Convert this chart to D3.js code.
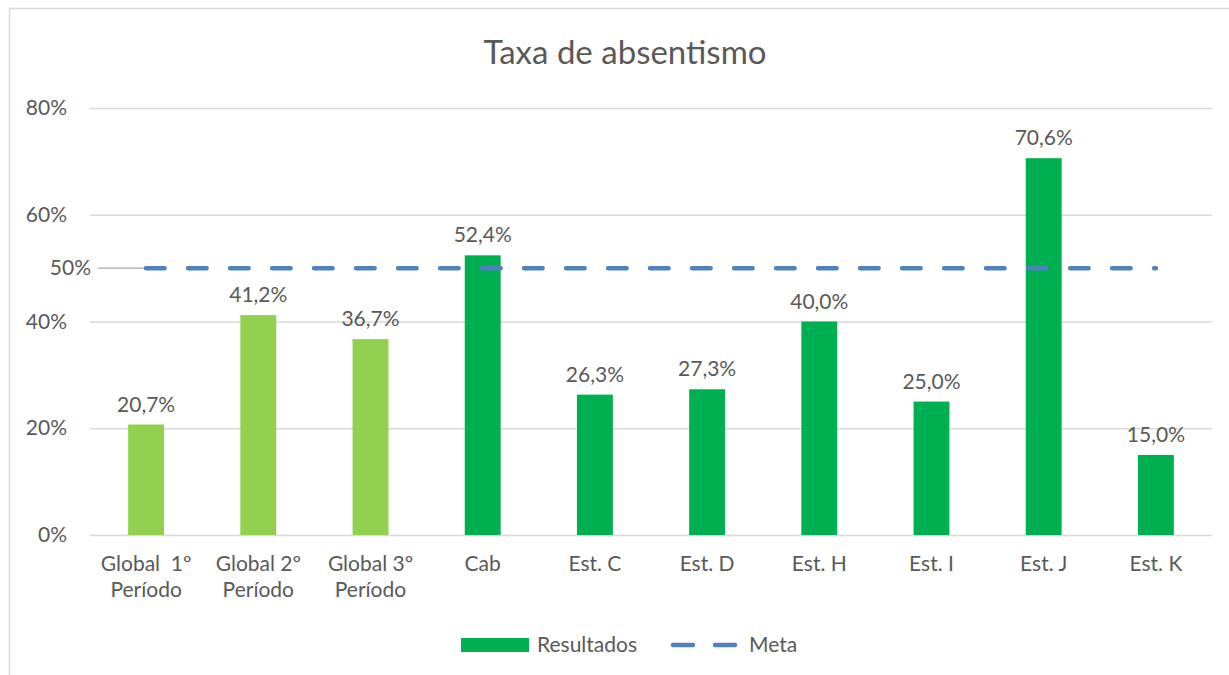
<!DOCTYPE html>
<html>
<head>
<meta charset="utf-8">
<script src="https://cdn.jsdelivr.net/npm/d3@7"></script>
<style>
  body { margin: 0; background: #fff; }
  svg { display: block; font-family: Lato, "Noto Sans", sans-serif; }
  text { fill: #595959; white-space: pre; }
</style>
</head>
<body>
<div id="chart"></div>
<script>
// chart data
var categories = ["Global  1º\nPeríodo", "Global 2º\nPeríodo", "Global 3º\nPeríodo",
  "Cab", "Est. C", "Est. D", "Est. H", "Est. I", "Est. J", "Est. K"];
var groups = ["global", "global", "global", "est", "est", "est", "est", "est", "est", "est"];
var resultados = [0.207, 0.412, 0.367, 0.524, 0.263, 0.273, 0.400, 0.250, 0.706, 0.150];
var meta = [0.5, 0.5, 0.5, 0.5, 0.5, 0.5, 0.5, 0.5, 0.5, 0.5];
var yTicks = [0, 0.2, 0.4, 0.6, 0.8];

var W = 1229, H = 675;
var plotLeft = 90, plotRight = 1212, plotTop = 108, plotBottom = 535;
var fontSize = '21px';

var pt = d3.formatLocale({decimal: ",", thousands: ".", grouping: [3], currency: ["", "€"]});
var fmtLabel = pt.format(".1%");
var fmtTick = pt.format(".0%");

var svg = d3.select('#chart').append('svg')
  .attr('width', W)
  .attr('height', H);

// outer chart frame (runs off the picture right and bottom)
svg.append('rect')
  .attr('x', 9.5).attr('y', 8.5)
  .attr('width', 1400).attr('height', 800)
  .style('fill', 'none')
  .style('stroke', '#d9d9d9')
  .style('stroke-width', 1.5);

var x = d3.scaleBand()
  .domain(categories)
  .range([plotLeft, plotRight])
  .paddingInner(0.68)
  .paddingOuter(0.34);

var y = d3.scaleLinear()
  .domain([0, 0.8])
  .range([plotBottom, plotTop]);

var color = d3.scaleOrdinal()
  .domain(["global", "est"])
  .range(["#92d050", "#00b050"]);

var cx = function (d) { return x(d) + x.bandwidth() / 2; };

// title
svg.append('text')
  .attr('x', 625)
  .attr('y', 64)
  .attr('text-anchor', 'middle')
  .style('font-size', '33px')
  .text('Taxa de absentismo');

// y axis + gridlines
var yAxis = svg.append('g')
  .attr('transform', 'translate(' + plotLeft + ',0)')
  .call(d3.axisLeft(y)
    .tickValues(yTicks)
    .tickFormat(fmtTick)
    .tickSizeInner(-(plotRight - plotLeft))
    .tickSizeOuter(0)
    .tickPadding(23));
yAxis.select('.domain').remove();
yAxis.selectAll('.tick line')
  .style('stroke', '#d9d9d9')
  .style('stroke-width', 1.3);
yAxis.selectAll('.tick text')
  .style('font-size', fontSize)
  .style('font-family', 'Lato, sans-serif')
  .style('fill', '#595959');

// bars
svg.selectAll('.bar')
  .data(resultados)
  .enter()
  .append('rect')
  .classed('bar', true)
  .attr('x', function (d, i) { return x(categories[i]); })
  .attr('y', function (d) { return y(d); })
  .attr('width', x.bandwidth())
  .attr('height', function (d) { return y(0) - y(d); })
  .style('fill', function (d, i) { return color(groups[i]); });

// data labels
svg.selectAll('.lbl')
  .data(resultados)
  .enter()
  .append('text')
  .classed('lbl', true)
  .attr('x', function (d, i) { return cx(categories[i]); })
  .attr('y', function (d) { return y(d) - 13; })
  .attr('text-anchor', 'middle')
  .style('font-size', fontSize)
  .text(function (d) { return fmtLabel(d); });

// meta line
var metaLine = d3.line()
  .x(function (d, i) { return cx(categories[i]); })
  .y(function (d) { return y(d); });

// meta label with leader line
svg.append('line')
  .attr('x1', 98).attr('x2', cx(categories[0]))
  .attr('y1', y(meta[0])).attr('y2', y(meta[0]))
  .style('stroke', '#a6a6a6')
  .style('stroke-width', 1.3);
svg.append('text')
  .attr('x', 91)
  .attr('y', y(meta[0]) + 7)
  .attr('text-anchor', 'end')
  .style('font-size', fontSize)
  .text(fmtTick(meta[0]));

svg.append('path')
  .datum(meta)
  .attr('d', metaLine)
  .style('fill', 'none')
  .style('stroke', '#4f81bd')
  .style('stroke-width', 4.5)
  .style('stroke-linecap', 'round')
  .style('stroke-dasharray', '18.5,23.5');

// category labels
var cat = svg.selectAll('.cat')
  .data(categories)
  .enter()
  .append('text')
  .classed('cat', true)
  .attr('text-anchor', 'middle')
  .style('font-size', fontSize)
  .attr('transform', function (d) { return 'translate(' + cx(d) + ',571)'; });
cat.selectAll('tspan')
  .data(function (d) { return d.split('\n'); })
  .enter()
  .append('tspan')
  .attr('x', 0)
  .attr('dy', function (d, i) { return i === 0 ? 0 : 26; })
  .text(function (d) { return d; });

// legend
var legend = svg.append('g');
legend.append('rect')
  .attr('x', 461).attr('y', 638)
  .attr('width', 68).attr('height', 14)
  .style('fill', color('est'));
legend.append('text')
  .attr('x', 537).attr('y', 652)
  .style('font-size', fontSize)
  .text('Resultados');
legend.append('line')
  .attr('x1', 673).attr('x2', 735)
  .attr('y1', 645).attr('y2', 645)
  .style('stroke', '#4f81bd')
  .style('stroke-width', 4.5)
  .style('stroke-linecap', 'round')
  .style('stroke-dasharray', '20,22');
legend.append('text')
  .attr('x', 749).attr('y', 652)
  .style('font-size', fontSize)
  .text('Meta');
</script>
</body>
</html>
